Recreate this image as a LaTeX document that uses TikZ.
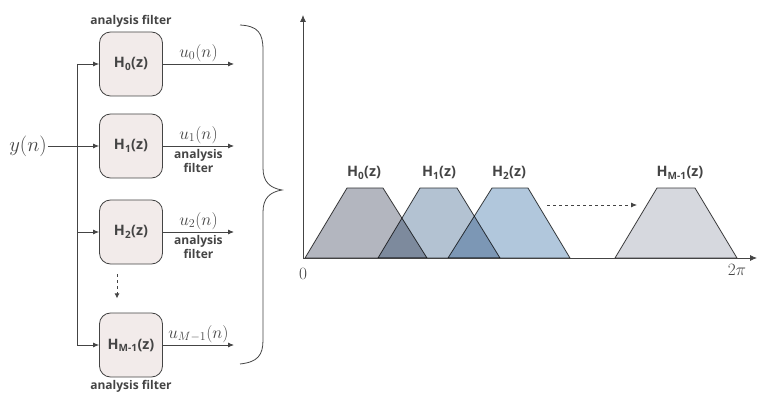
\documentclass[tikz,border=0pt]{standalone}
\usepackage{amsmath}
\usepackage{fontspec}
\newfontfamily\lblfont{Open Sans}
\usetikzlibrary{positioning,arrows.meta}

\definecolor{boxfill}{HTML}{F2EBEA}
\definecolor{linegray}{HTML}{444444}
\definecolor{bandA}{HTML}{B3B6BF}
\definecolor{bandB}{HTML}{B3C2D2}
\definecolor{bandC}{HTML}{B1C7DC}
\definecolor{bandD}{HTML}{D6D8DE}

\begin{document}
\begin{tikzpicture}[x=1pt, y=-1pt,
    filt/.style={draw=linegray, thick, fill=boxfill, rounded corners=11pt,
      minimum width=63pt, minimum height=64pt, font=\lblfont\bfseries\Large, text=linegray},
    sig/.style={draw=linegray, thick, -{Latex[length=6pt,width=5pt]}},
    note/.style={font=\lblfont\bfseries\large, text=linegray, align=center, inner sep=1pt},
    outlbl/.style={midway, above, text=linegray, font=\LARGE, inner sep=2pt},
    band/.style={draw=linegray, thick},
    bandlbl/.style={font=\lblfont\bfseries\Large, text=linegray}]
    \useasboundingbox (0,0) rectangle (757,403);

    % Filter bank
    \node[filt] (h0) at (131,64) {H\textsubscript{0}(z)};
    \node[filt] (h1) at (131,146) {H\textsubscript{1}(z)};
    \node[filt] (h2) at (131,232) {H\textsubscript{2}(z)};
    \node[filt] (hm) at (131,345) {H\textsubscript{M-1}(z)};
    \node[note, above=3pt of h0] (t0) {analysis filter};
    \node[note, below=2pt of hm] (tm) {analysis filter};

    % Input and split line
    \node[font=\huge, text=linegray, inner sep=1pt] (yin) at (28,146) {$y(n)$};
    \coordinate (sp0) at (77,64);
    \coordinate (sp1) at (77,146);
    \coordinate (sp2) at (77,232);
    \coordinate (spm) at (77,345);
    \draw[linegray, thick] (sp0) -- (spm);
    \draw[sig] (yin) -- (h1.west);
    \draw[sig] (sp0) -- (h0.west);
    \draw[sig] (sp2) -- (h2.west);
    \draw[sig] (spm) -- (hm.west);
    \draw[linegray, thick, dashed, -{Latex[length=5pt,width=5pt]}] (h2.south -| 117,0) ++(0,10) -- ++(0,24);

    % Outputs
    \coordinate (o0) at (234,64);
    \coordinate (o1) at (234,146);
    \coordinate (o2) at (234,232);
    \coordinate (om) at (234,345);
    \draw[sig] (h0.east) -- (o0) node[outlbl] {$u_0(n)$};
    \draw[sig] (h1.east) -- (o1) node[outlbl] {$u_1(n)$}
      node[note, midway, below=2pt] (t1) {analysis\\filter};
    \draw[sig] (h2.east) -- (o2) node[outlbl] {$u_2(n)$}
      node[note, midway, below=2pt] (t2) {analysis\\filter};
    \draw[sig] (hm.east) -- (om) node[outlbl] {$u_{M-1}(n)$};

    % Brace
    \draw[linegray, thick] (240,25) .. controls (258,26) and (263,33) .. (263,50)
      -- (263,168) .. controls (263,182) and (270,188) .. (282,190)
      .. controls (270,192) and (263,198) .. (263,212)
      -- (263,340) .. controls (263,355) and (258,362) .. (240,364);

    % Bands (overlaps darken)
    \begin{scope}[blend mode=multiply]
      \draw[band, fill=bandA] (305,258) -- (347,188) -- (383,188) -- (427,258) -- cycle;
      \draw[band, fill=bandB] (378,258) -- (420,188) -- (457,188) -- (500,258) -- cycle;
      \draw[band, fill=bandC] (448,258) -- (492,188) -- (528,188) -- (570,258) -- cycle;
      \draw[band, fill=bandD] (615,258) -- (657,188) -- (695,188) -- (737,258) -- cycle;
    \end{scope}
    \node[bandlbl] (l0) at (364,173) {H\textsubscript{0}(z)};
    \node[bandlbl] (l1) at (439,173) {H\textsubscript{1}(z)};
    \node[bandlbl] (l2) at (509,173) {H\textsubscript{2}(z)};
    \node[bandlbl] (lm) at (680,173) {H\textsubscript{M-1}(z)};
    \draw[linegray, thick, dashed, -{Latex[length=6pt,width=5pt]}] (547,205) -- (637,205);

    % Axes
    \coordinate (orig) at (303,258);
    \draw[linegray, thick, -{Latex[length=7pt,width=6pt]}] (orig) -- (303,15);
    \draw[linegray, thick, -{Latex[length=7pt,width=6pt]}] (orig) -- (757,258);
    \node[font=\LARGE, text=linegray] (zero) at (303,274) {$0$};
    \node[font=\LARGE, text=linegray] (tpi) at (737,270) {$2\pi$};
\end{tikzpicture}
\end{document}
